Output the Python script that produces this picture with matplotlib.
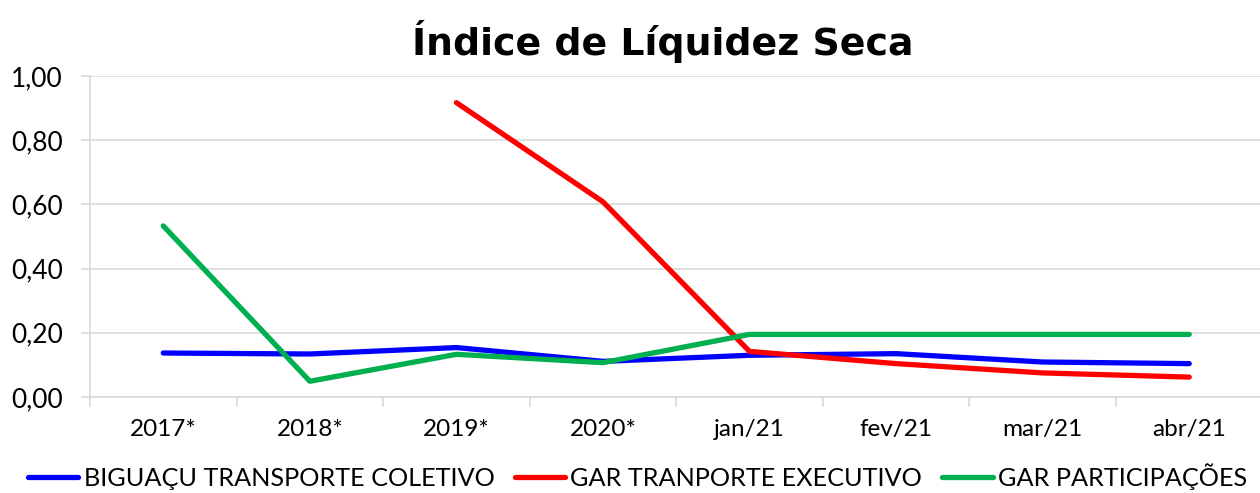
import numpy as np
import matplotlib
matplotlib.use("Agg")
from matplotlib import pyplot as plt

categories = ["2017*", "2018*", "2019*", "2020*", "jan/21", "fev/21", "mar/21", "abr/21"]
biguacu = [0.137, 0.134, 0.154, 0.111, 0.130, 0.135, 0.109, 0.104]
gar_exec = [np.nan, np.nan, 0.917, 0.608, 0.142, 0.104, 0.075, 0.062]
gar_part = [0.533, 0.049, 0.133, 0.107, 0.195, 0.195, 0.195, 0.195]
series_names = ["BIGUAÇU TRANSPORTE COLETIVO", "GAR TRANPORTE EXECUTIVO", "GAR PARTICIPAÇÕES"]
colors = ["#0000FF", "#FF0000", "#00B050"]
yticks = [0.0, 0.2, 0.4, 0.6, 0.8, 1.0]

plt.rcParams['font.family'] = ['Lato', 'DejaVu Sans']

fig = plt.figure(figsize=(12.6, 4.93), dpi=100)
ax = fig.add_axes([90 / 1260, 1 - 397 / 493, 1 - 90 / 1260 + 0.002, (397 - 76) / 493])

x = np.arange(len(categories))
for vals, name, c in zip([biguacu, gar_exec, gar_part], series_names, colors):
    ax.plot(x, vals, color=c, lw=3.8, label=name, solid_capstyle="round", solid_joinstyle="round")

ax.set_xlim(-0.5, len(categories) - 0.5)
ax.set_ylim(0, 1.0)
ax.set_yticks(yticks)
ax.set_yticklabels([f"{v:.2f}".replace(".", ",") for v in yticks], fontsize=19)
ax.set_xticks(x)
ax.set_xticklabels(categories, fontsize=17.5)
ax.set_xticks(np.arange(len(categories) + 1) - 0.5, minor=True)
ax.tick_params(axis="x", which="major", length=0, pad=16)
ax.tick_params(axis="x", which="minor", length=7, color="#D9D9D9", width=1.2)
ax.tick_params(axis="y", length=6.5, color="#D9D9D9", width=1.2, pad=13)
ax.grid(axis="y", color="#D9D9D9", lw=1.2)
ax.set_axisbelow(True)
for s in ["top", "right"]:
    ax.spines[s].set_visible(False)
for s in ["left", "bottom"]:
    ax.spines[s].set_color("#D9D9D9")
    ax.spines[s].set_linewidth(1.2)

fig.text(0.526, 0.915, "Índice de Líquidez Seca", ha="center", va="center",
         fontsize=27.3, fontweight="bold", family="DejaVu Sans")

fig.legend(loc="lower center", bbox_to_anchor=(0.506, -0.04), ncol=3, frameon=False,
           fontsize=18.2, handlelength=2.0, handletextpad=0.2, columnspacing=0.8)

fig.savefig("out.png", dpi=100)
